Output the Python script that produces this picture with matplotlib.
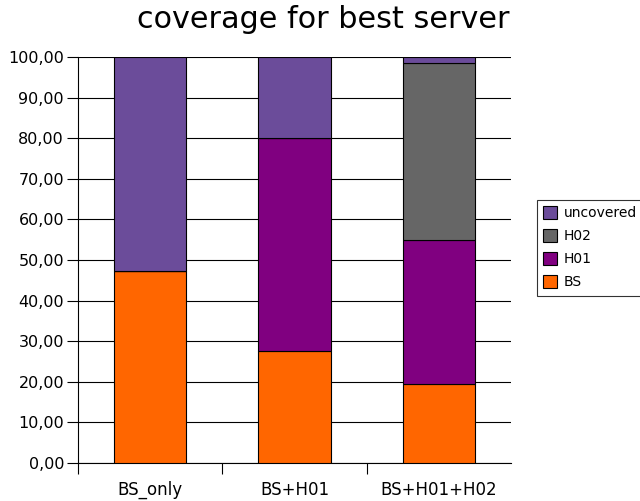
import matplotlib
matplotlib.use("Agg")
import matplotlib.pyplot as plt
from matplotlib.ticker import FuncFormatter, FixedLocator
import numpy as np

categories = ["BS_only", "BS+H01", "BS+H01+H02"]
bs = [47.3, 27.6, 19.5]
h01 = [0.0, 52.4, 35.4]
h02 = [0.0, 0.0, 43.7]
uncovered = [52.7, 20.0, 1.4]

series = [("BS", bs, "#FF6600"), ("H01", h01, "#800080"),
          ("H02", h02, "#666666"), ("uncovered", uncovered, "#6B4C9A")]

fig = plt.figure(figsize=(6.40, 5.01), dpi=100)
ax = fig.add_axes([78/640, 1-463/501, (511-78)/640, (463-57)/501])

x = np.arange(len(categories))
bottom = np.zeros(len(categories))
handles = []
for name, vals, color in series:
    vals = np.array(vals)
    b = ax.bar(x, vals, width=0.5, bottom=bottom, color=color,
               edgecolor="black", linewidth=0.8, label=name, zorder=3)
    handles.append(b)
    bottom += vals

ax.set_xlim(-0.5, len(categories) - 0.5)
ax.set_ylim(0, 100)
ax.set_yticks(np.arange(0, 101, 10))
ax.yaxis.set_major_formatter(FuncFormatter(lambda v, p: f"{v:.2f}".replace(".", ",")))
ax.yaxis.grid(True, color="black", linewidth=0.8, zorder=0)
ax.set_axisbelow(True)

ax.set_xticks(x)
ax.set_xticklabels(categories)
ax.xaxis.set_minor_locator(FixedLocator([-0.5, 0.5, 1.5]))
ax.tick_params(axis="x", which="major", length=0, labelsize=12, pad=13)
ax.tick_params(axis="x", which="minor", length=8, width=0.8, direction="out")
ax.tick_params(axis="y", length=8, width=0.8, direction="out", labelsize=11.5, pad=2)

for s in ["top", "right"]:
    ax.spines[s].set_visible(False)
ax.spines["left"].set_linewidth(0.8)
ax.spines["bottom"].set_linewidth(0.8)

fig.text(323/640, 1-19/501, "coverage for best server", fontsize=21.8,
         ha="center", va="center")

leg = fig.legend(handles[::-1], [s[0] for s in series][::-1],
                 loc="upper left", bbox_to_anchor=(537/640, 1-200/501),
                 fontsize=10, frameon=True, fancybox=False, edgecolor="black",
                 handlelength=1.0, handleheight=1.0, borderpad=0.45,
                 labelspacing=0.65, handletextpad=0.5, borderaxespad=0)
leg.get_frame().set_linewidth(0.8)

fig.savefig("out.png", dpi=100)
